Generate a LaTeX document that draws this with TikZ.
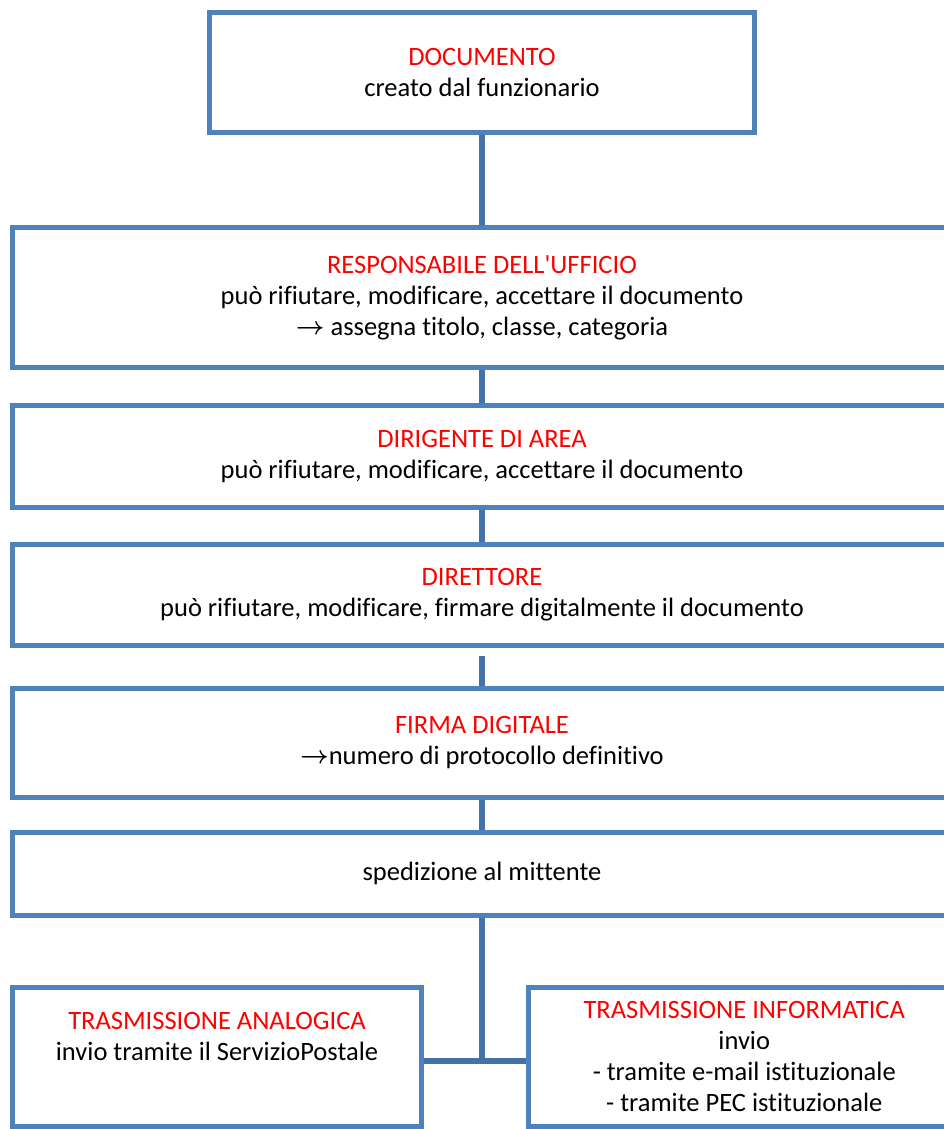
\documentclass[tikz,border=0pt]{standalone}
\usepackage{fontspec}
\newfontfamily\testo{Carlito}[Ligatures=NoCommon]
\usetikzlibrary{positioning}
\definecolor{boxblue}{HTML}{4F81BD}
\definecolor{linkblue}{HTML}{4472A8}
\tikzset{
	stage/.style={
			rectangle, draw=boxblue, line width=5pt, fill=white,
			inner sep=0pt, align=center, text centered},
	link/.style={draw=linkblue, line width=5.5pt},
		}
\newcommand{\titolo}[1]{\textcolor{red}{#1}}
\newcommand{\freccia}{\raisebox{1pt}{\boldmath$\rightarrow$}}

\begin{document}
\begin{tikzpicture}[x=1pt, y=-1pt, font=\testo\fontsize{26.5}{31}\selectfont]
	\useasboundingbox (0,0) rectangle (944,1129);
	\clip (0,0) rectangle (944,1129);

	\node[stage, minimum width=545pt, minimum height=120pt] (documento) at (482,72.5)
		{\titolo{DOCUMENTO}\\ creato dal funzionario};

	\node[stage, minimum width=939pt, minimum height=140pt] (responsabile) at (482,297.5)
		{\titolo{RESPONSABILE DELL'UFFICIO}\\
		 può rifiutare, modificare, accettare il documento\\
		 \freccia\ assegna titolo, classe, categoria};

	\node[stage, minimum width=939pt, minimum height=102pt] (dirigente) at (482,456.5)
		{\titolo{DIRIGENTE DI AREA}\\ può rifiutare, modificare, accettare il documento};

	\node[stage, minimum width=939pt, minimum height=101pt] (direttore) at (482,595)
		{\titolo{DIRETTORE}\\ può rifiutare, modificare, firmare digitalmente il documento};

	\node[stage, minimum width=939pt, minimum height=109pt] (firma) at (482,742.5)
		{\titolo{FIRMA DIGITALE}\\ \freccia numero di protocollo definitivo};

	\node[stage, minimum width=939pt, minimum height=83pt] (spedizione) at (482,873.5)
		{spedizione al mittente};

	\node[stage, minimum width=409pt, minimum height=138.5pt] (analogica) at (217,1056.75)
		{\titolo{TRASMISSIONE ANALOGICA}\\ invio tramite il ServizioPostale\\ \strut};

	\node[stage, minimum width=431.5pt, minimum height=138.5pt] (informatica) at (744.25,1056.75)
		{\titolo{TRASMISSIONE INFORMATICA}\\ invio\\ - tramite e-mail istituzionale\\ - tramite PEC istituzionale};

	\coordinate (bivio) at (482,1061);

	\draw[link] (documento.south) -- (responsabile.north);
	\draw[link] (responsabile.south) -- (dirigente.north);
	\draw[link] (dirigente.south) -- (direttore.north);
	\draw[link, shorten <=8pt] (direttore.south) -- (firma.north);
	\draw[link] (firma.south) -- (spedizione.north);
	\draw[link] (spedizione.south) -- (bivio);
	\draw[link] (analogica.east |- bivio) -- (informatica.west |- bivio);
%
\end{tikzpicture}
\end{document}
